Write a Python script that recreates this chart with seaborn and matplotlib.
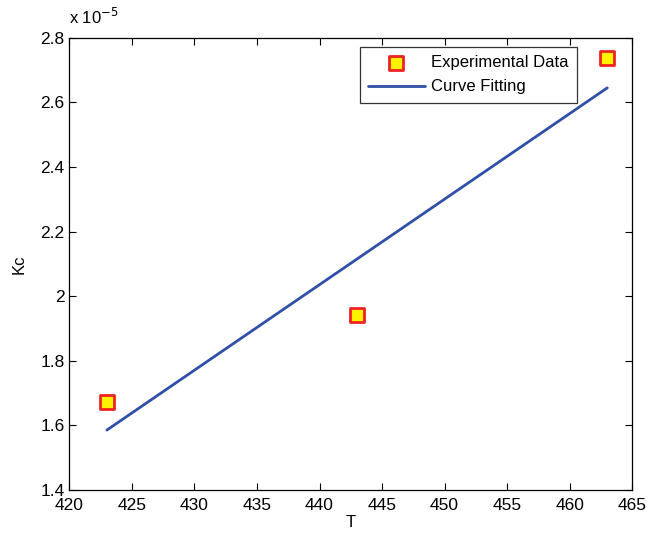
import pandas as pd
import numpy as np
import matplotlib
matplotlib.use("Agg")
import matplotlib.pyplot as plt
import seaborn as sns

# data (Kc in units of 1e-5)
temp_exp = [423, 443, 463]
kc_exp = [1.673, 1.942, 2.738]
temp_fit = [423, 463]
kc_fit = [1.585, 2.645]

exp_df = pd.DataFrame({"T": temp_exp, "Kc": kc_exp})
fit_df = pd.DataFrame({"T": temp_fit, "Kc": kc_fit})

sns.set_style("ticks")
plt.rcParams["font.family"] = ["Liberation Sans", "DejaVu Sans"]
plt.rcParams["xtick.direction"] = "in"
plt.rcParams["ytick.direction"] = "in"
for k in ["text.color", "axes.labelcolor", "xtick.color", "ytick.color", "axes.edgecolor"]:
    plt.rcParams[k] = "black"

fig, ax = plt.subplots(figsize=(6.6, 5.33), dpi=100)
fig.subplots_adjust(left=0.105, right=0.958, top=0.929, bottom=0.081)

sns.scatterplot(data=exp_df, x="T", y="Kc", marker="s", s=110,
                color="#FFF200", edgecolor="#EE2222", linewidth=2,
                label="Experimental Data", ax=ax, zorder=3)
sns.lineplot(data=fit_df, x="T", y="Kc", color="#2F4FA8", linewidth=2,
             label="Curve Fitting", ax=ax)

ax.set_xlim(420, 465)
ax.set_ylim(1.4, 2.8)
ax.set_xticks(np.arange(420, 466, 5))
ax.set_yticks(np.arange(1.4, 2.81, 0.2))
ax.set_yticklabels(["1.4", "1.6", "1.8", "2", "2.2", "2.4", "2.6", "2.8"])
ax.tick_params(top=True, right=True, length=5, width=0.8, labelsize=12.5)
ax.tick_params(axis="x", pad=6)
for s in ax.spines.values():
    s.set_linewidth(0.9)
ax.set_xlabel("T", fontsize=12, labelpad=1)
ax.set_ylabel("Kc", fontsize=12, labelpad=10)
ax.text(0.0, 1.025, r"x 10$^{-5}$", transform=ax.transAxes, fontsize=12,
        ha="left", va="bottom")

leg = ax.legend(loc="upper right", bbox_to_anchor=(0.902, 0.98), borderaxespad=0,
                fontsize=12, frameon=True, fancybox=False, edgecolor="black",
                handlelength=3.4, handletextpad=0.4, borderpad=0.5,
                labelspacing=0.55)
leg.get_frame().set_linewidth(0.9)

plt.savefig("out.png", dpi=100)
